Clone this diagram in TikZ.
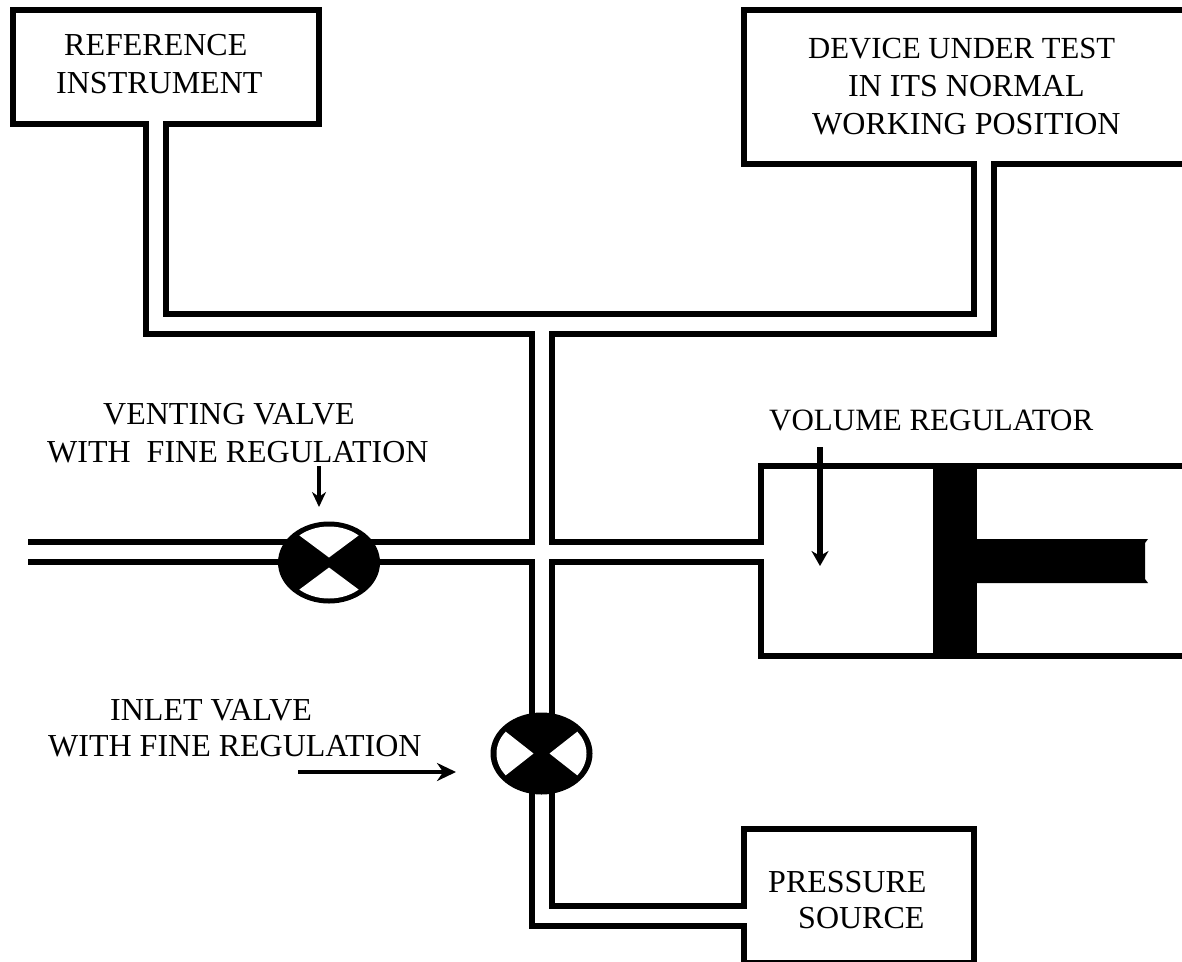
\documentclass[tikz,border=0pt]{standalone}
\usepackage{fontspec}
\setmainfont{Liberation Serif}
\usetikzlibrary{arrows.meta,shapes.geometric}
\tikzset{
    boxpart/.style={draw, line width=6pt, fill=white, inner sep=0pt, outer sep=0pt},
    valvepart/.style={ellipse, draw, fill=black, line width=6pt, inner sep=0pt, outer sep=0pt,
        minimum width=96pt, minimum height=76pt},
    tag/.style={anchor=base west, align=left, inner sep=0pt, font=\fontsize{32}{38}\selectfont},
    tagtight/.style={tag, font=\fontsize{32}{36}\selectfont},
}
\begin{document}
\begin{tikzpicture}[x=1pt, y=-1pt]
    \path[use as bounding box, clip] (0, 0) rectangle (1182, 961);

    % boxes
    \node[boxpart, minimum width=306pt, minimum height=114pt] (refbox) at (166, 67) {};
    \node[boxpart, minimum width=460pt, minimum height=154pt] (dutbox) at (974, 87) {};
    \node[boxpart, minimum width=230pt, minimum height=134pt] (sourcebox) at (859, 896) {};
    \node[boxpart, minimum width=440pt, minimum height=190pt] (cylinder) at (981, 561) {};

    % piping
    \coordinate (hub) at (542, 324);
    \coordinate (ventend) at (28, 552);
    \coordinate (ventseat) at (329, 562.5);
    \coordinate (inletseat) at (541.5, 753.5);
    \foreach \pipew/\pipec/\pipeext in {26/black/0, 14/white/4} {
        \draw[line width=\pipew pt, \pipec, line join=miter, shorten <=-\pipeext pt, shorten >=-\pipeext pt]
            ([xshift=-10pt]refbox.south) |- (hub) -| ([xshift=10pt]dutbox.south);
        \draw[line width=\pipew pt, \pipec, line join=miter, shorten <=-\pipeext pt, shorten >=-\pipeext pt]
            (hub) |- ([yshift=-20pt]sourcebox.west);
        \draw[line width=\pipew pt, \pipec, shorten <=-\pipeext pt, shorten >=-\pipeext pt]
            (ventend) -- ([yshift=9pt]cylinder.west);
    }

    % valves
    \node[valvepart] (ventvalve) at (ventseat) {};
    \begin{scope}[shift={(ventvalve.center)}]
        \clip (0, 0) ellipse [x radius=45, y radius=36];
        \fill[white] (0, -5) -- (-47, -40) -- (47, -40) -- cycle;
        \fill[white] (0, 5) -- (-47, 40) -- (47, 40) -- cycle;
    \end{scope}
    \node[valvepart] (inletvalve) at (inletseat) {};
    \begin{scope}[shift={(inletvalve.center)}]
        \clip (0, 0) ellipse [x radius=45, y radius=36];
        \fill[white] (-8, 0) -- (-50, -33) -- (-50, 33) -- cycle;
        \fill[white] (8, 0) -- (50, -33) -- (50, 33) -- cycle;
    \end{scope}

    % piston
    \fill (933, 466) rectangle (977, 656);
    \fill (977, 539) -- (1148, 539) -- (1145, 543) -- (1145, 579) -- (1148, 583) -- (977, 583) -- cycle;

    % pointers
    \coordinate (venttail) at (319, 466);
    \coordinate (venthead) at (319, 507);
    \coordinate (inlettail) at (298, 772);
    \coordinate (inlethead) at (456, 772);
    \coordinate (volumetail) at (820, 447);
    \coordinate (volumehead) at (820, 566);
    \draw[-{Stealth[length=15pt,width=14pt]}, line width=4pt] (venttail) -- (venthead);
    \draw[-{Stealth[length=19pt,width=18pt]}, line width=4pt] (inlettail) -- (inlethead);
    \draw[-{Stealth[length=15pt,width=17pt]}, line width=6pt] (volumetail) -- (volumehead);

    % labels
    \node[tag] (reflabel) at (56, 93) {\hspace*{8pt}REFERENCE\\INSTRUMENT};
    \node[tag] (dutlabel) at (808, 134) {{\fontsize{30.7}{38}\selectfont DEVICE UNDER TEST}\\\hspace*{40pt}IN ITS NORMAL\\\hspace*{4pt}WORKING POSITION};
    \node[tagtight] (sourcelabel) at (768, 928) {PRESSURE\\\hspace*{30pt}SOURCE};
    \node[tag] (ventlabel) at (47, 462) {\hspace*{56pt}VENTING VALVE\\WITH\hspace*{16pt}FINE REGULATION};
    \node[tag, font=\fontsize{31}{38}\selectfont] (volumelabel) at (769, 430) {VOLUME REGULATOR};
    \node[tagtight] (inletlabel) at (48, 756) {\hspace*{62pt}INLET VALVE\\WITH FINE REGULATION};
\end{tikzpicture}
\end{document}
